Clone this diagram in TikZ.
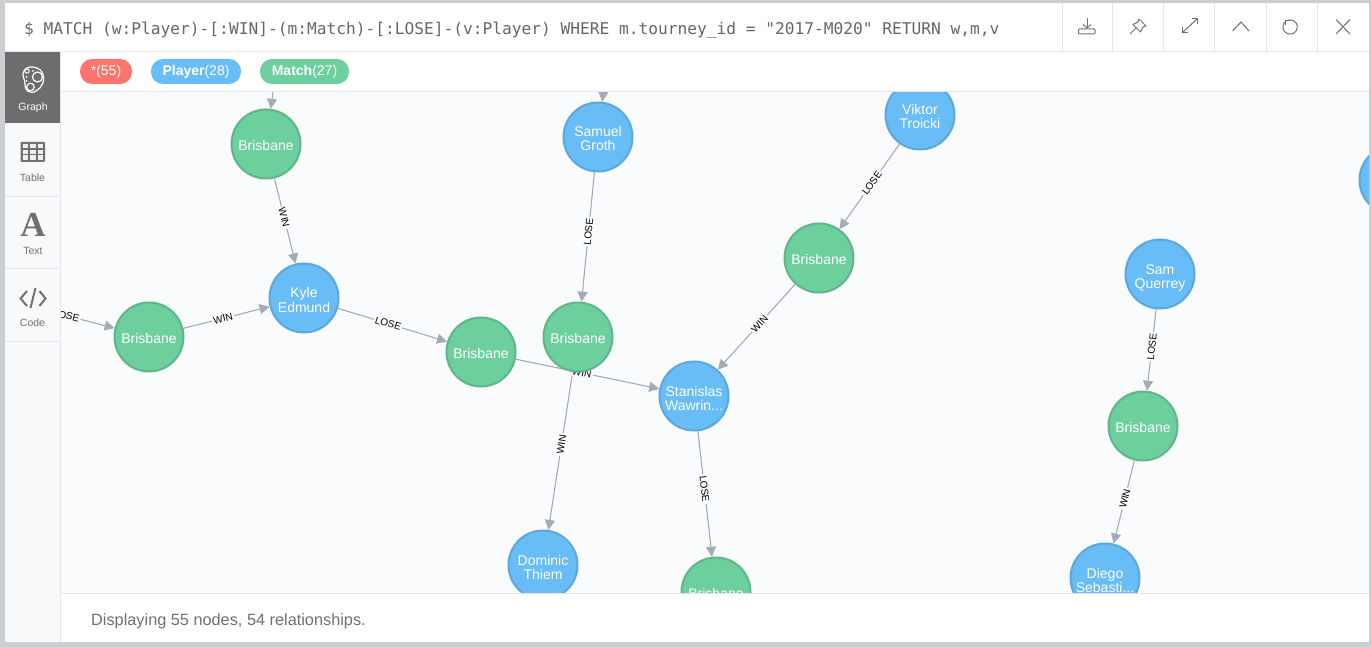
\documentclass[tikz,border=0pt]{standalone}
\usepackage{fontspec}
\setmainfont{Liberation Sans}
\newfontfamily\querymono{DejaVu Sans Mono}
\newfontfamily\iconserif{Liberation Serif}
\usetikzlibrary{arrows.meta,backgrounds}

\definecolor{framegray}{HTML}{CBCED3}
\definecolor{graphbg}{HTML}{F9FBFD}
\definecolor{sidebg}{HTML}{F8F9FB}
\definecolor{sepline}{HTML}{E4E6EB}
\definecolor{tabdark}{HTML}{6D6D6D}
\definecolor{icongray}{HTML}{717171}
\definecolor{relgray}{HTML}{A5ABB6}
\definecolor{playerfill}{HTML}{68BDF6}
\definecolor{playerline}{HTML}{5CA8DB}
\definecolor{matchfill}{HTML}{6DCE9E}
\definecolor{matchline}{HTML}{60B58B}
\definecolor{allfill}{HTML}{FF756E}

\tikzset{
	player/.style={circle,draw=playerline,fill=playerfill,line width=2pt,minimum size=69pt,inner sep=0pt,text=white,align=center,font=\fontsize{14}{14}\selectfont,text height=28pt,text depth=0pt},
	match/.style={player,draw=matchline,fill=matchfill,text height=12.5pt},
	rel/.style={draw=relgray,line width=1.1pt,-{Triangle[length=10pt,width=10pt]}},
	rellabel/.style={sloped,pos=0.46,fill=graphbg,inner sep=1.5pt,text=black,font=\fontsize{10}{0}\selectfont},
	pill/.style={rounded corners=12pt,minimum height=25pt,inner sep=0pt,text=white,font=\fontsize{14}{0}\selectfont},
	sidetext/.style={text=icongray,font=\fontsize{10.5}{0}\selectfont},
	toolicon/.style={draw=icongray,line width=1pt}
}

\begin{document}
\begin{tikzpicture}[x=1pt,y=-1pt]
	\useasboundingbox (0,0) rectangle (1371,647);

	% panels
	\begin{scope}[on background layer]
		\fill[framegray] (0,0) rectangle (1371,647);
		\fill[graphbg] (61,92) rectangle (1369,593);
	\end{scope}

	% nodes
	\begin{scope}
		\clip (61,92) rectangle (1369,593);
		\node[match] (brisA) at (266,144) {Brisbane};
		\node[player] (samuel) at (598,137) {Samuel\\Groth};
		\node[player] (viktor) at (920,115) {Viktor\\Troicki};
		\node[player] (edgeplayer) at (1394,180) {};
		\node[player] (querrey) at (1160,274) {Sam\\Querrey};
		\node[match] (brisB) at (819,258) {Brisbane};
		\node[player] (kyle) at (304,298) {Kyle\\Edmund};
		\node[match] (brisC) at (149,337) {Brisbane};
		\node[match] (brisD) at (481,352) {Brisbane};
		\node[match] (brisE) at (578,337) {Brisbane};
		\node[player] (stan) at (694,396) {Stanislas\\Wawrin...};
		\node[match] (brisF) at (1143,426) {Brisbane};
		\node[player] (dominic) at (543,565) {Dominic\\Thiem};
		\node[match] (brisG) at (716,592) {Brisbane};
		\node[player] (diego) at (1105,578) {Diego\\Sebasti...};
	\end{scope}

	\coordinate (offA) at (276,70);
	\coordinate (offB) at (606,70);
	\coordinate (offC) at (25,305);

	% relationships
	\begin{scope}[on background layer]
		\clip (61,92) rectangle (1369,593);
		\draw[rel] (offA) -- (brisA);
		\draw[rel] (offB) -- (samuel);
		\draw[rel] (offC) -- node[rellabel] {LOSE} (brisC);
		\draw[rel] (brisA) -- node[rellabel] {WIN} (kyle);
		\draw[rel] (brisC) -- node[rellabel] {WIN} (kyle);
		\draw[rel] (kyle) -- node[rellabel] {LOSE} (brisD);
		\draw[rel] (samuel) -- node[rellabel] {LOSE} (brisE);
		\draw[rel] (brisE) -- node[rellabel] {WIN} (dominic);
		\draw[rel] (brisD) -- node[rellabel] {WIN} (stan);
		\draw[rel] (viktor) -- node[rellabel] {LOSE} (brisB);
		\draw[rel] (brisB) -- node[rellabel] {WIN} (stan);
		\draw[rel] (stan) -- node[rellabel] {LOSE} (brisG);
		\draw[rel] (querrey) -- node[rellabel] {LOSE} (brisF);
		\draw[rel] (brisF) -- node[rellabel] {WIN} (diego);
	\end{scope}

	% header, legend and footer
	\fill[white] (5,3) rectangle (1369,51);
	\fill[white] (61,52) rectangle (1369,91);
	\fill[white] (61,594) rectangle (1369,642);
	\fill[sidebg] (5,52) rectangle (60,642);
	\draw[sepline] (5,51.5) -- (1369,51.5);
	\draw[sepline] (61,91.5) -- (1369,91.5);
	\draw[sepline] (61,593.5) -- (1369,593.5);
	\draw[sepline] (60.5,52) -- (60.5,642);
	\foreach \sepx in {1062,1112,1163.5,1214.5,1266.5,1317.5}
		\draw[sepline] (\sepx,3) -- (\sepx,51);

	\node[anchor=west,inner sep=0pt,text=icongray!90!black] (query) at (24,30) {\querymono\fontsize{16.2}{0}\selectfont \$ MATCH (w:Player)-[:WIN]-(m:Match)-[:LOSE]-(v:Player) WHERE m.tourney\_id = "2017-M020" RETURN w,m,v};

	\node[pill,fill=allfill,minimum width=52pt] (pillall) at (106,71.5) {\raisebox{-1pt}{*(55)}};
	\node[pill,fill=playerfill,minimum width=90pt] (pillplayer) at (196,71.5) {\raisebox{-1pt}{\textbf{Player}(28)}};
	\node[pill,fill=matchfill,minimum width=89pt] (pillmatch) at (304.5,71.5) {\raisebox{-1pt}{\textbf{Match}(27)}};

	\node[anchor=west,inner sep=0pt,text=icongray] (status) at (91,621.5) {\fontsize{16.3}{0}\selectfont Displaying 55 nodes, 54 relationships.};

	% side tabs
	\fill[tabdark] (5,52) rectangle (60,123);
	\draw[sepline] (5,196.5) -- (60,196.5);
	\draw[sepline] (5,268.5) -- (60,268.5);
	\draw[sepline] (5,341.5) -- (60,341.5);

	\draw[white,line width=1.2pt] (24,71) .. controls (27,65) and (38,66) .. (42,72) .. controls (46,80) and (42,88) .. (36,91) .. controls (30,95) and (24,90) .. (25,84) .. controls (25,78) and (21,76) .. (24,71) -- cycle;
	\draw[white,line width=1.2pt] (37.5,77) circle (5);
	\draw[white,line width=1.2pt] (30.5,87) circle (3.8);
	\draw[white,line width=1pt] (27,71) circle (2.2);
	\fill[white] (33,71) circle (1);
	\fill[white] (26.5,77) circle (1);
	\fill[white] (26.5,81) circle (1);
	\node[text=white,font=\fontsize{10.5}{0}\selectfont] (tabgraph) at (33,108) {Graph};

	\fill[icongray,rounded corners=1pt] (20.5,142) rectangle (45,162);
	\foreach \cellx in {22.5,30,37.5}
		\foreach \celly in {144,150,155.5}
			\fill[white!88!icongray] (\cellx,\celly) rectangle +(5.8,4.5);
	\node[sidetext] (tabtable) at (32.5,178) {Table};

	\node[text=icongray,inner sep=0pt] (bigA) at (33,224.5) {\iconserif\bfseries\fontsize{35}{0}\selectfont A};
	\node[sidetext] (tabtext) at (33,251) {Text};

	\draw[icongray,line width=2pt] (27,291) -- (20.5,298.5) -- (27,306);
	\draw[icongray,line width=2pt] (39.5,291) -- (45.5,298.5) -- (39.5,306);
	\draw[icongray,line width=2pt] (35.5,288) -- (30.5,308);
	\node[sidetext] (tabcode) at (32.5,323) {Code};

	% toolbar
	\draw[toolicon] (1087,18) -- (1087,28);
	\draw[toolicon] (1083,24.5) -- (1087,28) -- (1091,24.5);
	\draw[toolicon,rounded corners=1pt] (1078.5,29) rectangle (1095,34);
	\draw[toolicon] (1130,34) -- (1136,28);
	\draw[toolicon,line join=round] (1139,19) -- (1146,26) -- (1143,27) -- (1140.5,32) -- (1133,24.5) -- (1138,22) -- cycle;
	\draw[toolicon] (1182,33) -- (1197,19);
	\draw[toolicon] (1182,27.5) -- (1182,33) -- (1187.5,33);
	\draw[toolicon] (1191.5,19) -- (1197,19) -- (1197,24.5);
	\draw[toolicon] (1232.5,31) -- (1241,22) -- (1249,31);
	\draw[toolicon] (1286,21) arc[start angle=235,end angle=-110,radius=7.2];
	\draw[toolicon] (1285.5,25.5) -- (1285.5,20.5) -- (1290.5,20.5);
	\draw[toolicon] (1336,19.5) -- (1350,34);
	\draw[toolicon] (1350,19.5) -- (1336,34);
\end{tikzpicture}
\end{document}
